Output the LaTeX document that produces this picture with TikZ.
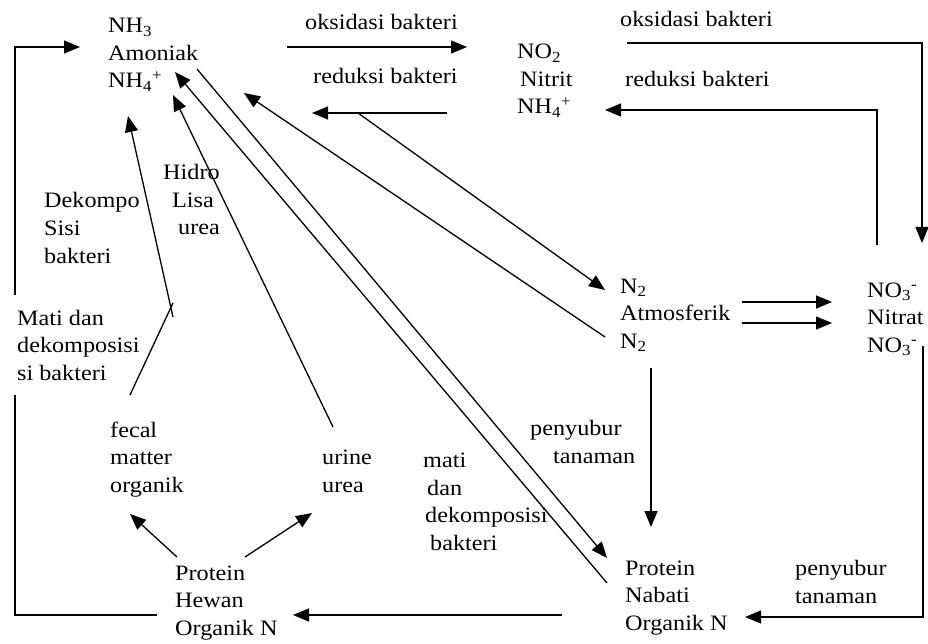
\documentclass[tikz,border=0pt]{standalone}
\usepackage{fontspec}
\setmainfont{Liberation Serif}[FakeStretch=1.1]
\usetikzlibrary{arrows.meta}

\begin{document}
\begin{tikzpicture}[x=1pt, y=-1pt,
    lbl/.style={anchor=base west, inner sep=0pt, align=left,
      font=\fontsize{22}{27.5}\selectfont},
    flow/.style={line width=1.3pt, -{Triangle[length=16pt, width=13pt]}},
    plain/.style={line width=1.3pt}]
  \useasboundingbox (0,0) rectangle (928,644);

  % senyawa (posisi = baris terakhir)
  \node[lbl] (amonia) at (108,88) {NH\textsubscript{3}\\Amoniak\\NH\textsubscript{4}\textsuperscript{+}};
  \node[lbl] (nitrit) at (517,114) {NO\textsubscript{2}\\\hspace*{3pt}Nitrit\\NH\textsubscript{4}\textsuperscript{+}};
  \node[lbl] (atmos) at (620,348) {N\textsubscript{2}\\Atmosferik\\N\textsubscript{2}};
  \node[lbl] (nitrat) at (867,352) {NO\textsubscript{3}\textsuperscript{-}\\Nitrat\\NO\textsubscript{3}\textsuperscript{-}};
  \node[lbl] (nabati) at (625,630) {Protein\\Nabati\\Organik N};
  \node[lbl] (hewan) at (175,635) {Protein\\Hewan\\Organik N};
  \node[lbl] (fecal) at (110,492) {fecal\\matter\\organik};
  \node[lbl] (urine) at (322,492) {urine\\urea};

  % keterangan proses
  \node[lbl] (oksA) at (305,30) {oksidasi bakteri};
  \node[lbl] (redA) at (313,84) {reduksi bakteri};
  \node[lbl] (oksB) at (620,27) {oksidasi bakteri};
  \node[lbl] (redB) at (625,87) {reduksi bakteri};
  \node[lbl] (subA) at (530,463) {penyubur\\\hspace*{23pt}tanaman};
  \node[lbl] (subB) at (795,603) {penyubur\\tanaman};
  \node[lbl] (mati) at (423,550) {mati\\\hspace*{4pt}dan\\\hspace*{2pt}dekomposisi\\\hspace*{7pt}bakteri};
  \node[lbl] (matiL) at (17,380) {Mati dan\\dekomposisi\\si bakteri};
  \node[lbl] (dekom) at (44,263) {Dekompo\\Sisi\\bakteri};
  \node[lbl] (hidro) at (163,235) {Hidro\\\hspace*{9pt}Lisa\\\hspace*{15pt}urea};

  % ujung garis
  \coordinate (loopA) at (157,615);
  \coordinate (loopB) at (15,395);
  \coordinate (loopC) at (15,295);
  \coordinate (loopD) at (80,47);
  \coordinate (oksA1) at (287,47);
  \coordinate (oksA2) at (467,47);
  \coordinate (redA1) at (447,113);
  \coordinate (redA2) at (312,113);
  \coordinate (redA3) at (358,113);
  \coordinate (oksB1) at (627,43);
  \coordinate (oksB2) at (922,243);
  \coordinate (redB1) at (877,245);
  \coordinate (redB2) at (605,110);
  \coordinate (n2in) at (605,290);
  \coordinate (n2out) at (605,337);
  \coordinate (n2down) at (651,368);
  \coordinate (nbtop) at (651,527);
  \coordinate (nbin) at (607,558);
  \coordinate (nbout) at (607,583);
  \coordinate (nbleft) at (562,615);
  \coordinate (hwright) at (293,615);
  \coordinate (no3out) at (923,346);
  \coordinate (nbright) at (745,617);
  \coordinate (amout) at (197,69);
  \coordinate (amin1) at (175,72);
  \coordinate (amin2) at (173,95);
  \coordinate (amin3) at (128,116);
  \coordinate (amin4) at (244,93);
  \coordinate (urtop) at (333,427);
  \coordinate (fctop) at (130,395);
  \coordinate (kink1) at (173,303);
  \coordinate (kink2) at (173,317);
  \coordinate (hwfc) at (177,557);
  \coordinate (fcin) at (130,514);
  \coordinate (hwur) at (245,557);
  \coordinate (urin) at (312,513);

  % siklus luar
  \draw[plain] (loopA) -| (loopB);
  \draw[flow] (loopC) |- (loopD);
  \draw[flow] (oksA1) -- (oksA2);
  \draw[flow] (redA1) -- (redA2);
  \draw[flow] (oksB1) -| (oksB2);
  \draw[flow] (redB1) |- (redB2);
  \draw[flow] (no3out) |- (nbright);
  \draw[flow] (nbleft) -- (hwright);

  % N2 atmosferik
  \foreach \y in {302,323}
    \draw[flow] (742,\y) -- (832,\y);
  \draw[flow] (redA3) -- (n2in);
  \draw[flow] (n2out) -- (amin4);
  \draw[flow] (n2down) -- (nbtop);

  % diagonal
  \draw[flow] (amout) -- (nbin);
  \draw[flow] (nbout) -- (amin1);
  \draw[flow] (urtop) -- (amin2);
  \draw[plain] (fctop) -- (kink1);
  \draw[flow] (kink2) -- (amin3);
  \draw[flow] (hwfc) -- (fcin);
  \draw[flow] (hwur) -- (urin);
\end{tikzpicture}
\end{document}
